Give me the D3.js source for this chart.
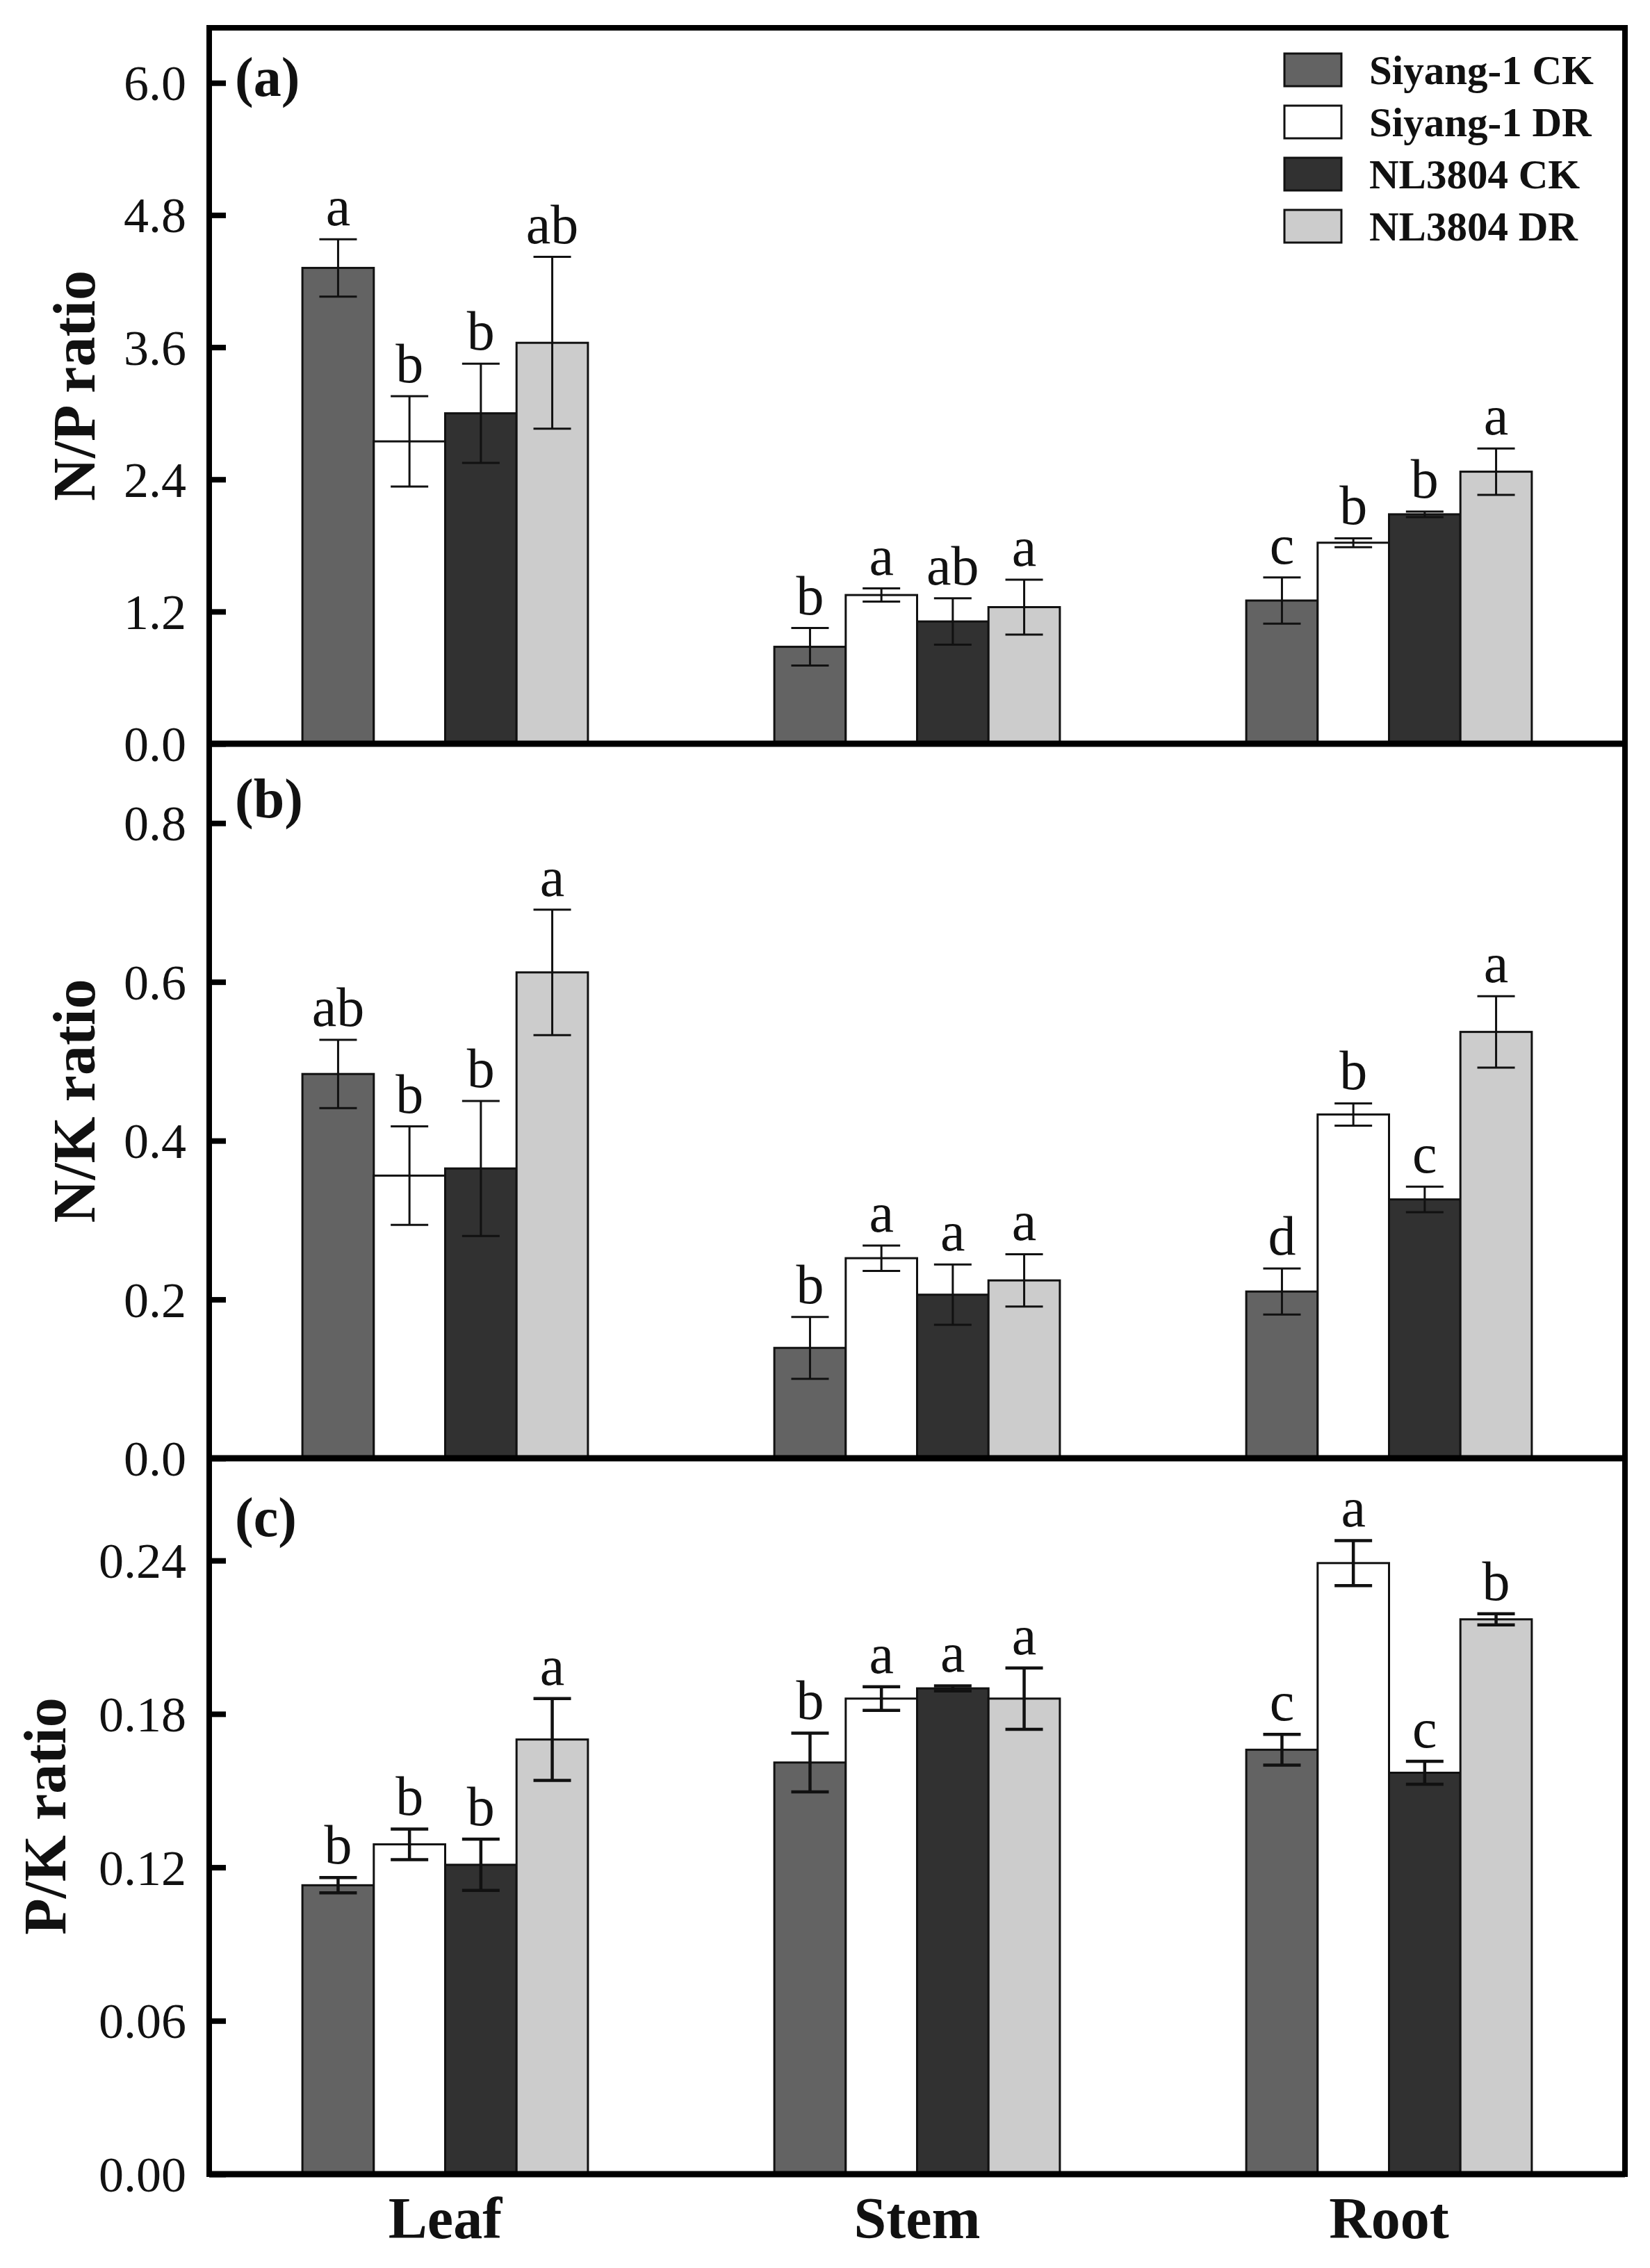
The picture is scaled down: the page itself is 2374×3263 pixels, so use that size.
<!DOCTYPE html>
<html>
<head>
<meta charset="utf-8">
<script src="https://cdn.jsdelivr.net/npm/d3@7"></script>
<style>
  body { margin: 0; background: #fff; }
  svg { display: block; }
  text { font-family: "Liberation Serif", "Times New Roman", serif; fill: #111; }
</style>
</head>
<body>
<svg id="chart"></svg>
<script>
const categories = ["Leaf", "Stem", "Root"];
const series = ["Siyang-1 CK", "Siyang-1 DR", "NL3804 CK", "NL3804 DR"];
const colors = ["#636363", "#ffffff", "#313131", "#cccccc"];

// N/P ratio, rows = organ, cols = series
const npMean = [[4.32, 2.745, 3.0, 3.64], [0.88, 1.35, 1.11, 1.24], [1.30, 1.825, 2.083, 2.47]];
const npErr = [[0.26, 0.41, 0.45, 0.78], [0.17, 0.06, 0.21, 0.25], [0.21, 0.04, 0.025, 0.21]];
const npLetters = [["a", "b", "b", "ab"], ["b", "a", "ab", "a"], ["c", "b", "b", "a"]];
const npTicks = [0, 1.2, 2.4, 3.6, 4.8, 6.0];

// N/K ratio
const nkMean = [[0.484, 0.356, 0.365, 0.612], [0.139, 0.252, 0.206, 0.224], [0.210, 0.433, 0.326, 0.537]];
const nkErr = [[0.043, 0.062, 0.085, 0.079], [0.039, 0.016, 0.038, 0.033], [0.029, 0.014, 0.016, 0.045]];
const nkLetters = [["ab", "b", "b", "a"], ["b", "a", "a", "a"], ["d", "b", "c", "a"]];
const nkTicks = [0, 0.2, 0.4, 0.6, 0.8];

// P/K ratio
const pkMean = [[0.113, 0.129, 0.121, 0.170], [0.161, 0.186, 0.190, 0.186], [0.166, 0.239, 0.157, 0.217]];
const pkErr = [[0.003, 0.006, 0.010, 0.016], [0.0115, 0.0046, 0.001, 0.012], [0.006, 0.0088, 0.0045, 0.0022]];
const pkLetters = [["b", "b", "b", "a"], ["b", "a", "a", "a"], ["c", "a", "c", "b"]];
const pkTicks = [0, 0.06, 0.12, 0.18, 0.24];

const W = 2374, H = 3263;
const left = 301, right = 2338;

const svg = d3.select("#chart").attr("width", W).attr("height", H);
svg.append("rect").attr("width", W).attr("height", H).attr("fill", "#fff");

const x0 = d3.scaleBand().domain(categories).range([left, right]).paddingInner(0.395).paddingOuter(0.1975);
const x1 = d3.scaleBand().domain(series).range([0, x0.bandwidth()]);

const panels = [
  { label: "(a)", title: "N/P ratio", top: 40, bottom: 1070, max: 6.5, mean: npMean, err: npErr, letters: npLetters, ticks: npTicks, fmt: ".1f", titleX: 136, labelDy: 98, errW: 3 },
  { label: "(b)", title: "N/K ratio", top: 1070, bottom: 2098, max: 0.9, mean: nkMean, err: nkErr, letters: nkLetters, ticks: nkTicks, fmt: ".1f", titleX: 136, labelDy: 106, errW: 3 },
  { label: "(c)", title: "P/K ratio", top: 2098, bottom: 3128, max: 0.28, mean: pkMean, err: pkErr, letters: pkLetters, ticks: pkTicks, fmt: ".2f", titleX: 94, labelDy: 112, errW: 4.5 }
];

panels.forEach(p => {
  const y = d3.scaleLinear().domain([0, p.max]).range([p.bottom, p.top]);
  const g = svg.append("g");

  // bars
  categories.forEach((cat, ci) => {
    const grp = g.append("g").attr("transform", `translate(${x0(cat)},0)`);
    series.forEach((s, si) => {
      const v = p.mean[ci][si], e = p.err[ci][si];
      const bx = x1(s), bw = x1.bandwidth(), cx = bx + bw / 2;
      grp.append("rect")
        .attr("x", bx).attr("y", y(v))
        .attr("width", bw).attr("height", y(0) - y(v))
        .attr("fill", colors[si])
        .attr("stroke", "#111").attr("stroke-width", 3);

      // error bar
      const eb = grp.append("g").attr("stroke", "#111").attr("stroke-width", p.errW);
      eb.append("line").attr("x1", cx).attr("x2", cx).attr("y1", y(v + e)).attr("y2", y(v - e));
      [v + e, v - e].forEach(t => {
        eb.append("line").attr("x1", cx - 27).attr("x2", cx + 27).attr("y1", y(t)).attr("y2", y(t));
      });

      grp.append("text")
        .attr("x", cx).attr("y", y(v + e) - 20)
        .attr("text-anchor", "middle")
        .attr("font-size", 80)
        .text(p.letters[ci][si]);
    });
  });

  // y axis with inward ticks
  const axis = g.append("g")
    .attr("transform", `translate(${left},0)`)
    .call(d3.axisLeft(y).tickValues(p.ticks).tickFormat(d3.format(p.fmt)).tickSizeInner(-24).tickSizeOuter(0).tickPadding(33));
  axis.select(".domain").remove();
  axis.selectAll(".tick line").attr("stroke", "#000").attr("stroke-width", 8);
  axis.selectAll(".tick text")
    .attr("font-size", 72)
    .attr("font-family", "Liberation Serif, serif")
    .attr("fill", "#222")
    .attr("dy", "0.34em");

  // axis title
  g.append("text")
    .attr("transform", `translate(${p.titleX},${(p.top + p.bottom) / 2}) rotate(-90)`)
    .attr("text-anchor", "middle")
    .attr("font-size", 86)
    .attr("font-weight", "bold")
    .text(p.title);

  // panel label
  g.append("text")
    .attr("x", 338).attr("y", p.top + p.labelDy)
    .attr("font-size", 80)
    .attr("font-weight", "bold")
    .text(p.label);

  // bottom line of the panel
  g.append("line")
    .attr("x1", left).attr("x2", right)
    .attr("y1", p.bottom).attr("y2", p.bottom)
    .attr("stroke", "#000").attr("stroke-width", 9);
});

// outer frame
svg.append("rect")
  .attr("x", left).attr("y", 40)
  .attr("width", right - left).attr("height", 3128 - 40)
  .attr("fill", "none").attr("stroke", "#000").attr("stroke-width", 8);

// x category labels
svg.append("g").selectAll("text")
  .data(categories)
  .join("text")
  .attr("x", d => x0(d) + x0.bandwidth() / 2)
  .attr("y", 3220)
  .attr("text-anchor", "middle")
  .attr("font-size", 84)
  .attr("font-weight", "bold")
  .text(d => d);

// legend
const legend = svg.append("g").attr("transform", "translate(1848,77)");
series.forEach((s, i) => {
  const row = legend.append("g").attr("transform", `translate(0,${i * 75})`);
  row.append("rect")
    .attr("width", 82).attr("height", 47)
    .attr("fill", colors[i])
    .attr("stroke", "#111").attr("stroke-width", 3);
  row.append("text")
    .attr("x", 122).attr("y", 44)
    .attr("font-size", 59)
    .attr("font-weight", "bold")
    .text(s);
});
</script>
</body>
</html>
